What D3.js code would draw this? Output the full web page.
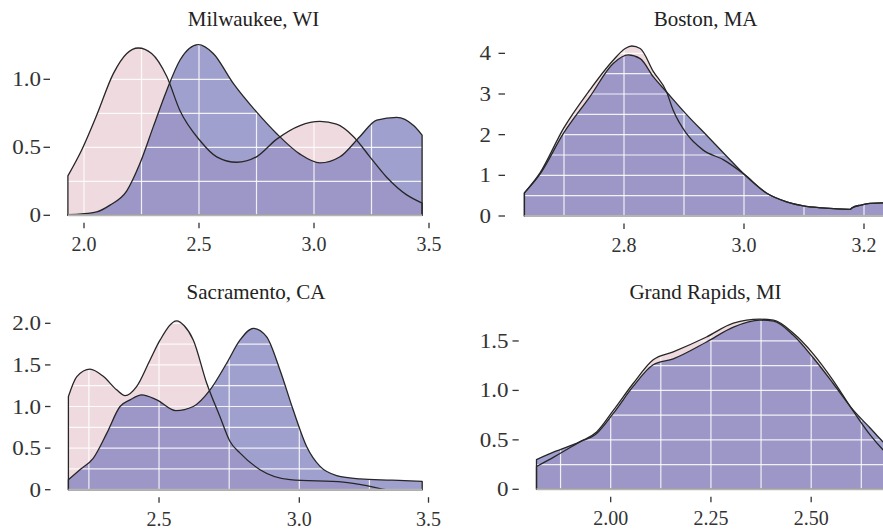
<!DOCTYPE html>
<html><head><meta charset="utf-8">
<script src="https://cdn.jsdelivr.net/npm/d3@7"></script>
<style>
html,body{margin:0;padding:0;background:#fff;}
svg{display:block;font-family:"Liberation Serif","Times New Roman",serif;}
</style></head><body>
<svg id="chart" width="883" height="529"></svg>
<script>
// Panel titles
const cityNames = ["Milwaukee, WI", "Boston, MA", "Sacramento, CA", "Grand Rapids, MI"];

// Density estimates, [x, density], for the two groups in each city
const milwaukeeA = [[1.93,0.29],[1.99,0.48],[2.055,0.735],[2.127,1.04],[2.186,1.19],[2.236,1.23],[2.294,1.19],[2.36,1.02],[2.417,0.77],[2.504,0.55],[2.577,0.43],[2.664,0.39],[2.75,0.43],[2.838,0.56],[2.939,0.66],[3.026,0.69],[3.098,0.67],[3.171,0.58],[3.243,0.43],[3.316,0.28],[3.403,0.15],[3.47,0.09]];
const milwaukeeB = [[1.93,0.005],[1.99,0.01],[2.055,0.025],[2.113,0.075],[2.186,0.18],[2.243,0.38],[2.301,0.65],[2.36,0.92],[2.417,1.14],[2.497,1.255],[2.562,1.19],[2.649,0.97],[2.75,0.76],[2.838,0.60],[2.939,0.45],[3.026,0.385],[3.113,0.43],[3.2,0.58],[3.273,0.70],[3.36,0.72],[3.433,0.66],[3.47,0.59]];

const bostonA = [[2.634,0.57],[2.66,1.06],[2.699,2.15],[2.743,3.10],[2.782,3.83],[2.802,4.12],[2.813,4.18],[2.827,4.12],[2.849,3.55],[2.871,3.05],[2.882,2.60],[2.904,2.03],[2.932,1.62],[2.966,1.38],[3.0,1.03],[3.038,0.56],[3.071,0.35],[3.099,0.25],[3.13,0.20],[3.177,0.165],[3.18,0.2],[3.195,0.27],[3.21,0.31],[3.26,0.33]];
const bostonB = [[2.634,0.57],[2.66,1.03],[2.699,2.03],[2.743,2.93],[2.782,3.75],[2.807,3.96],[2.827,3.87],[2.849,3.42],[2.871,3.05],[2.904,2.50],[2.938,1.98],[2.971,1.47],[3.0,1.03],[3.038,0.56],[3.071,0.35],[3.099,0.25],[3.13,0.20],[3.177,0.165],[3.18,0.2],[3.195,0.27],[3.21,0.31],[3.26,0.33]];

const sacramentoA = [[2.177,1.12],[2.207,1.36],[2.254,1.45],[2.302,1.36],[2.349,1.20],[2.379,1.13],[2.42,1.24],[2.468,1.56],[2.504,1.80],[2.563,2.03],[2.59,1.97],[2.622,1.80],[2.67,1.28],[2.717,0.88],[2.753,0.58],[2.789,0.44],[2.86,0.24],[2.967,0.12],[3.157,0.09],[3.24,0.05],[3.317,0.0],[3.438,0.0]];
const sacramentoB = [[2.177,0.12],[2.218,0.24],[2.266,0.38],[2.314,0.68],[2.361,1.0],[2.397,1.08],[2.438,1.14],[2.492,1.08],[2.56,0.95],[2.622,1.0],[2.682,1.20],[2.741,1.52],[2.789,1.80],[2.836,1.94],[2.883,1.84],[2.931,1.44],[2.978,0.96],[3.026,0.52],[3.074,0.28],[3.133,0.17],[3.216,0.13],[3.33,0.115],[3.438,0.10]];

const grandRapidsA = [[1.815,0.23],[1.86,0.33],[1.923,0.48],[1.965,0.58],[2.007,0.80],[2.056,1.07],[2.106,1.31],[2.156,1.39],[2.239,1.54],[2.306,1.68],[2.372,1.72],[2.406,1.71],[2.455,1.58],[2.505,1.37],[2.555,1.10],[2.605,0.79],[2.647,0.55],[2.679,0.40],[2.72,0.25]];
const grandRapidsB = [[1.815,0.30],[1.86,0.38],[1.923,0.48],[1.965,0.565],[2.007,0.77],[2.056,1.04],[2.106,1.26],[2.156,1.32],[2.239,1.49],[2.306,1.64],[2.372,1.71],[2.406,1.70],[2.455,1.56],[2.505,1.33],[2.555,1.07],[2.605,0.80],[2.647,0.62],[2.679,0.48],[2.72,0.35]];

// Tick values
const milwaukeeXTicks = [2.0, 2.5, 3.0, 3.5];
const milwaukeeYTicks = [0, 0.5, 1.0];
const bostonXTicks = [2.8, 3.0, 3.2];
const bostonYTicks = [0, 1, 2, 3, 4];
const sacramentoXTicks = [2.5, 3.0, 3.5];
const sacramentoYTicks = [0, 0.5, 1.0, 1.5, 2.0];
const grandRapidsXTicks = [2.00, 2.25, 2.50];
const grandRapidsYTicks = [0, 0.5, 1.0, 1.5];

const fillA = "#efdbdf";
const fillB = "rgb(128,128,191)";

const panels = [
  {title: cityNames[0], a: milwaukeeA, b: milwaukeeB,
   xDomain: [1.93, 3.47], xRange: [67.9, 422.1], yDomain: [0, 1.3], yRange: [215.3, 38.5],
   xTicks: milwaukeeXTicks, yTicks: milwaukeeYTicks, xFmt: d3.format(".1f"), yFmt: d3.format(".1f"),
   xGrid: 0.25, yGrid: 0.25, titleX: 253.5, titleY: 25.5, dash: [43.5, 50], labelX: 41, tickMax: 429.3},
  {title: cityNames[1], a: bostonA, b: bostonB,
   xDomain: [2.634, 3.26], xRange: [524.4, 900], yDomain: [0, 4.2], yRange: [216, 45.2],
   xTicks: bostonXTicks, yTicks: bostonYTicks, xFmt: d3.format(".1f"), yFmt: d3.format("d"),
   xGrid: 0.1, yGrid: 0.5, titleX: 705.6, titleY: 25.5, dash: [498.5, 505], labelX: 491, tickMax: 9999},
  {title: cityNames[2], a: sacramentoA, b: sacramentoB,
   xDomain: [2.177, 3.438], xRange: [68.4, 422.2], yDomain: [0, 2.1], yRange: [489.7, 315],
   xTicks: sacramentoXTicks, yTicks: sacramentoYTicks, xFmt: d3.format(".1f"), yFmt: d3.format(".1f"),
   xGrid: 0.25, yGrid: 0.25, titleX: 256, titleY: 299.3, dash: [45, 50.5], labelX: 41, tickMax: 428.5},
  {title: cityNames[3], a: grandRapidsA, b: grandRapidsB,
   xDomain: [1.815, 2.72], xRange: [536.5, 899.4], yDomain: [0, 1.8], yRange: [489.3, 311.3],
   xTicks: grandRapidsXTicks, yTicks: grandRapidsYTicks, xFmt: d3.format(".2f"), yFmt: d3.format(".1f"),
   xGrid: 0.125, yGrid: 0.25, titleX: 705.5, titleY: 299.3, dash: [512.5, 518.7], labelX: 508.5, tickMax: 9999}
];

const svg = d3.select("#chart");

function gridValues(domain, step) {
  const out = [];
  for (let k = Math.ceil(domain[0] / step - 1e-9); k * step <= domain[1] + 1e-9; k++) {
    out.push(+(k * step).toFixed(6));
  }
  return out;
}

panels.forEach((p, i) => {
  const x = d3.scaleLinear().domain(p.xDomain).range(p.xRange);
  const y = d3.scaleLinear().domain(p.yDomain).range(p.yRange);
  const g = svg.append("g");

  const clipId = "clip" + i;
  g.append("clipPath").attr("id", clipId).append("rect")
    .attr("x", p.xRange[0]).attr("y", p.yRange[1] - 10)
    .attr("width", p.xRange[1] - p.xRange[0]).attr("height", p.yRange[0] - p.yRange[1] + 10);

  const area = d3.area().x(d => x(d[0])).y0(y(0)).y1(d => y(d[1])).curve(d3.curveMonotoneX);

  const plot = g.append("g");
  plot.append("path").datum(p.a).attr("d", area).attr("fill", fillA);
  plot.append("path").datum(p.b).attr("d", area).attr("fill", fillB).attr("fill-opacity", 0.75);

  // grid drawn over the fills
  const grid = g.append("g").attr("clip-path", `url(#${clipId})`)
    .attr("stroke", "#fff").attr("stroke-opacity", 0.85).attr("stroke-width", 1.2);
  grid.selectAll("line.gx").data(gridValues(p.xDomain, p.xGrid)).join("line")
    .attr("x1", d => x(d)).attr("x2", d => x(d))
    .attr("y1", y(0)).attr("y2", p.yRange[1] - 10);
  grid.selectAll("line.gy").data(gridValues(p.yDomain, p.yGrid).filter(v => v > 0)).join("line")
    .attr("x1", p.xRange[0]).attr("x2", p.xRange[1])
    .attr("y1", d => y(d)).attr("y2", d => y(d));

  // outlines
  [p.a, p.b].forEach(s => {
    g.append("path").datum(s).attr("d", area).attr("fill", "none")
      .attr("stroke", "#262626").attr("stroke-width", 1.3).attr("stroke-linejoin", "round");
  });

  // baseline
  g.append("line").attr("x1", p.xRange[0]).attr("x2", p.xRange[1])
    .attr("y1", y(0)).attr("y2", y(0))
    .attr("stroke", "#b4b4b4").attr("stroke-width", 2);

  // y axis
  const yAx = g.append("g");
  yAx.selectAll("line").data(p.yTicks).join("line")
    .attr("x1", p.dash[0]).attr("x2", p.dash[1])
    .attr("y1", d => y(d)).attr("y2", d => y(d))
    .attr("stroke", "#333").attr("stroke-width", 1.3);
  yAx.selectAll("text").data(p.yTicks).join("text")
    .attr("x", p.labelX).attr("y", d => y(d)).attr("dy", "0.35em")
    .attr("text-anchor", "end").attr("font-size", 20).attr("fill", "#333")
    .attr("transform", d => `translate(${p.labelX},${y(d)}) scale(1.15,1) translate(${-p.labelX},${-y(d)})`)
    .text(d => d === 0 ? "0" : p.yFmt(d));

  // x axis
  const base = y(0);
  const tx = d => Math.min(x(d), p.tickMax);
  const xAx = g.append("g");
  xAx.selectAll("line").data(p.xTicks).join("line")
    .attr("x1", tx).attr("x2", tx)
    .attr("y1", base + 7.5).attr("y2", base + 13)
    .attr("stroke", "#333").attr("stroke-width", 1.3);
  xAx.selectAll("text").data(p.xTicks).join("text")
    .attr("x", tx).attr("y", base + 36)
    .attr("text-anchor", "middle").attr("font-size", 20).attr("fill", "#333")
    .text(d => p.xFmt(d));

  // title
  g.append("text").attr("x", p.titleX).attr("y", p.titleY)
    .attr("text-anchor", "middle").attr("font-size", 21).attr("fill", "#222")
    .text(p.title);
});
</script>
</body></html>
